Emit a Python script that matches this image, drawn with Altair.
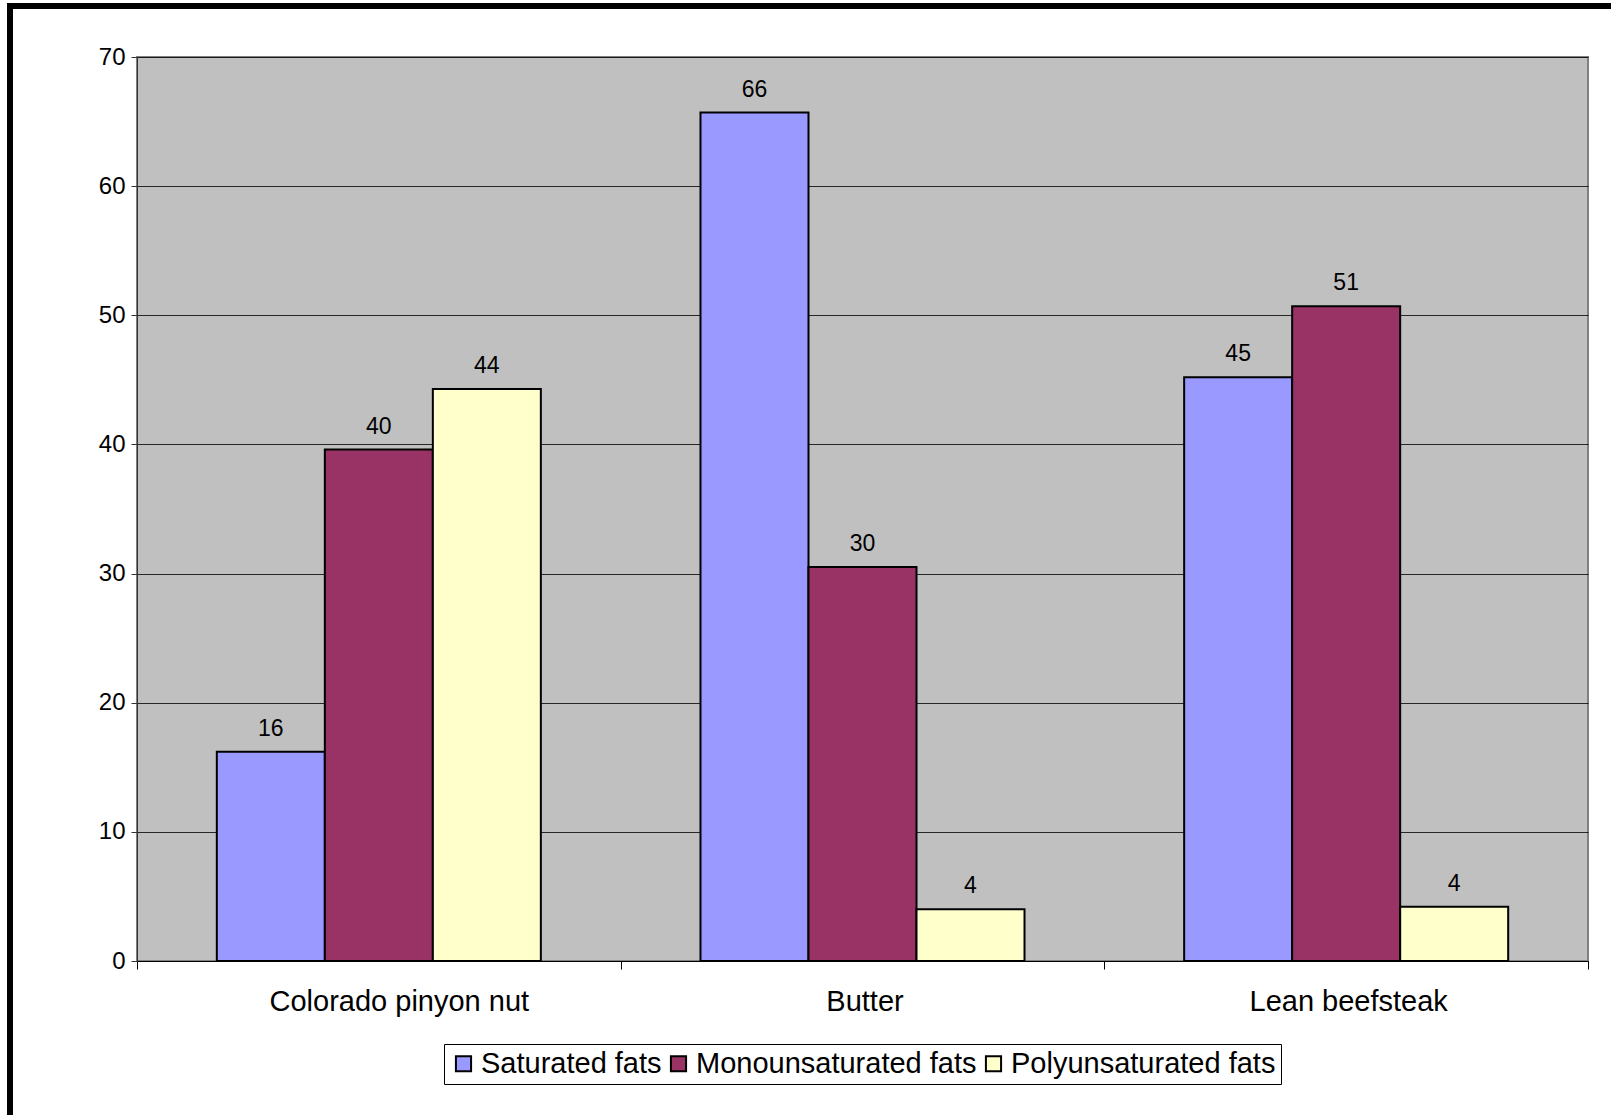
import altair as alt
import pandas as pd

foods = ["Colorado pinyon nut", "Butter", "Lean beefsteak"]
series = ["Saturated fats", "Monounsaturated fats", "Polyunsaturated fats"]
saturated = [16.2, 65.7, 45.2]
mono = [39.6, 30.5, 50.7]
poly = [44.3, 4.0, 4.2]
colors = ["#9999FF", "#993366", "#FFFFCC"]

rows = []
for i, f in enumerate(foods):
    for s, vals in zip(series, [saturated, mono, poly]):
        rows.append({"food": f, "series": s, "value": vals[i], "label": str(round(vals[i]))})
df = pd.DataFrame(rows)

FONT = "Liberation Sans"

x = alt.X("food:N", sort=foods, title=None,
          scale=alt.Scale(paddingInner=0, paddingOuter=0),
          axis=alt.Axis(labelAngle=0, labelFontSize=29, labelPadding=18, labelColor="black",
                        labelLimit=0, tickBand="extent", tickSize=8, tickColor="black",
                        labelOffset=alt.condition("datum.value == 'Colorado pinyon nut'",
                                                  alt.value(20), alt.value(2)),
                        domainColor="black", labelFont=FONT, grid=False))
xo = alt.XOffset("series:N", sort=series, scale=alt.Scale(paddingInner=0, paddingOuter=0.739))
y = alt.Y("value:Q", title=None,
          scale=alt.Scale(domain=[0, 70], nice=False),
          axis=alt.Axis(values=list(range(0, 71, 10)), labelFontSize=24, labelFont=FONT,
                        labelColor="black", tickSize=6, tickColor="#333333", domainColor="#333333",
                        labelPadding=6, gridColor="black", gridWidth=1, gridOpacity=0.8))

bars = alt.Chart(df).mark_bar(stroke="black", strokeWidth=2).encode(
    x=x, xOffset=xo, y=y,
    color=alt.Color("series:N", sort=series, title=None,
                    scale=alt.Scale(domain=series, range=colors),
                    legend=alt.Legend(orient="none", legendX=307, legendY=987, direction="horizontal",
                                      symbolType="square", symbolSize=230, symbolStrokeColor="black",
                                      symbolStrokeWidth=2, labelFontSize=29, labelFont=FONT,
                                      labelColor="black", strokeColor="black", padding=5,
                                      columnPadding=2, symbolOffset=0, labelOffset=3,
                                      labelLimit=0, fillColor="white"))
)

text = alt.Chart(df).mark_text(dy=-23, fontSize=23, font=FONT, color="black").encode(
    x=alt.X("food:N", sort=foods), xOffset=xo, y="value:Q", text="label:N"
)

frame_left = alt.Chart(df).mark_rule(color="black", strokeWidth=6, clip=False).encode(
    x=alt.value(-127), y=alt.value(-53), y2=alt.value(1100)
)
frame_top = alt.Chart(df).mark_rule(color="black", strokeWidth=6, clip=False).encode(
    x=alt.value(-130), x2=alt.value(1480), y=alt.value(-51)
)

chart = alt.layer(bars, text, frame_left, frame_top).properties(
    width=1451, height=904,
    autosize=alt.AutoSizeParams(type="none"),
    padding={"left": 137, "top": 57, "right": 23, "bottom": 154},
    background="white",
).configure_view(fill="#C0C0C0", stroke="#808080", strokeWidth=2)

chart.save("out.html", embed_options={"renderer": "svg", "actions": False})
